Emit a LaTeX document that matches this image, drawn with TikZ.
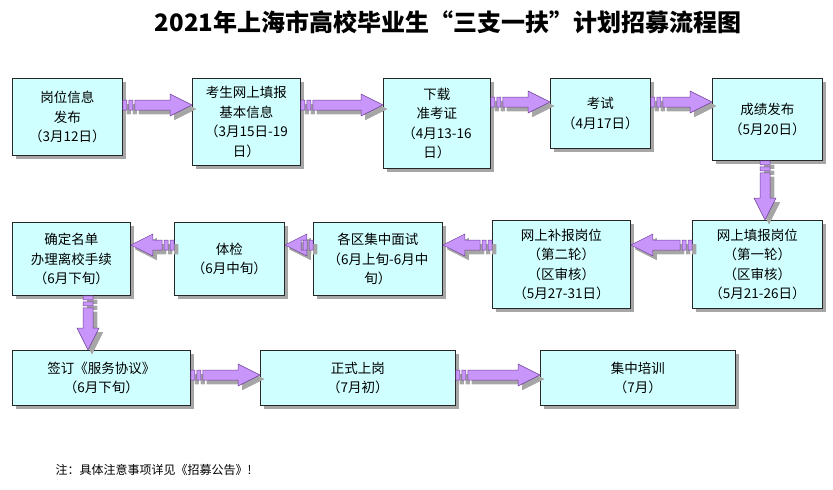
\documentclass[tikz,border=0pt]{standalone}
\usepackage{fontspec}
\setmainfont{Noto Sans CJK SC}
\usetikzlibrary{calc}
\definecolor{boxfill}{RGB}{208,255,255}
\definecolor{arrfill}{RGB}{200,150,250}
\definecolor{arrline}{RGB}{110,60,150}
\begin{document}
\begin{tikzpicture}[x=1pt,y=1pt,
  shad/.style={preaction={fill=black!35,transform canvas={shift={(4pt,-4pt)}}}},
  box/.style={draw=black!85,line width=0.9pt,fill=boxfill,shad,anchor=north west,inner sep=2pt,
     align=center,font=\fontsize{13.5}{19.5}\selectfont},
  arr/.style={fill=arrfill,draw=arrline,line width=0.5pt,shad}]
\useasboundingbox (0,0) rectangle (833,-490);
\node[font=\fontsize{24}{28}\selectfont\bfseries] (title) at (448,-22) {2021年上海市高校毕业生“三支一扶”计划招募流程图};
\newcommand\bx[7]{\node[box,minimum width=#4,minimum height=#5] (#1) at (#2,-#3) {#6};}
\bx{b1}{12}{78}{110}{77}{岗位信息\\发布\\（3月12日）}{}
\bx{b2}{192}{78}{108}{87}{考生网上填报\\基本信息\\（3月15日-19\\日）}{}
\bx{b3}{383}{78}{107}{90}{下载\\准考证\\（4月13-16\\日）}{}
\bx{b4}{550}{78}{100}{70}{考试\\（4月17日）}{}
\bx{b5}{712}{78}{110}{82}{成绩发布\\（5月20日）}{}
\bx{b6}{692}{220}{130}{88}{网上填报岗位\\（第一轮）\\（区审核）\\（5月21-26日）}{}
\bx{b7}{492}{220}{138}{88}{网上补报岗位\\（第二轮）\\（区审核）\\（5月27-31日）}{}
\bx{b8}{313}{222}{129}{73}{各区集中面试\\（6月上旬-6月中\\旬）}{}
\bx{b9}{174}{222}{110}{73}{体检\\（6月中旬）}{}
\bx{b10}{12}{222}{118}{73}{确定名单\\办理离校手续\\（6月下旬）}{}
\bx{b11}{12}{350}{178}{55}{签订《服务协议》\\（6月下旬）}{}
\bx{b12}{260}{350}{195}{55}{正式上岗\\（7月初）}{}
\bx{b13}{540}{350}{195}{55}{集中培训\\（7月）}{}
\node[anchor=west,font=\fontsize{12}{14}\selectfont] (note) at (52,-470) {注：具体注意事项详见《招募公告》!};
\newcommand\harr[4]{\path let \p1=(#1), \p2=(#2) in
  [arr] ({\x1},-#3-5) rectangle ({\x1+#4*4pt},-#3+5)
  [arr] ({\x1+#4*6pt},-#3-5) rectangle ({\x1+#4*10pt},-#3+5)
  [arr] ({\x1+#4*12pt},-#3-5) -- ({\x2-#4*22pt},-#3-5) -- ({\x2-#4*22pt},-#3-11) -- ({\x2},-#3) -- ({\x2-#4*22pt},-#3+11) -- ({\x2-#4*22pt},-#3+5) -- ({\x1+#4*12pt},-#3+5) -- cycle;}
\newcommand\varr[3]{\path let \p1=(#1), \p2=(#2) in
  [arr] (#3-5,{\y1}) rectangle (#3+5,{\y1-4pt})
  [arr] (#3-5,{\y1-6pt}) rectangle (#3+5,{\y1-10pt})
  [arr] (#3-5,{\y1-12pt}) -- (#3-5,{\y2+22pt}) -- (#3-11,{\y2+22pt}) -- (#3,{\y2}) -- (#3+11,{\y2+22pt}) -- (#3+5,{\y2+22pt}) -- (#3+5,{\y1-12pt}) -- cycle;}
\harr{b1.east}{b2.west}{105}{1}
\harr{b2.east}{b3.west}{105}{1}
\harr{b3.east}{b4.west}{102}{1}
\harr{b4.east}{b5.west}{102}{1}
\varr{b5.south}{b6.north}{765}
\harr{b6.west}{b7.east}{245}{-1}
\harr{b7.west}{b8.east}{245}{-1}
\harr{b8.west}{b9.east}{245}{-1}
\harr{b9.west}{b10.east}{245}{-1}
\varr{b10.south}{b11.north}{88}
\harr{b11.east}{b12.west}{375}{1}
\harr{b12.east}{b13.west}{375}{1}
\end{tikzpicture}
\end{document}
